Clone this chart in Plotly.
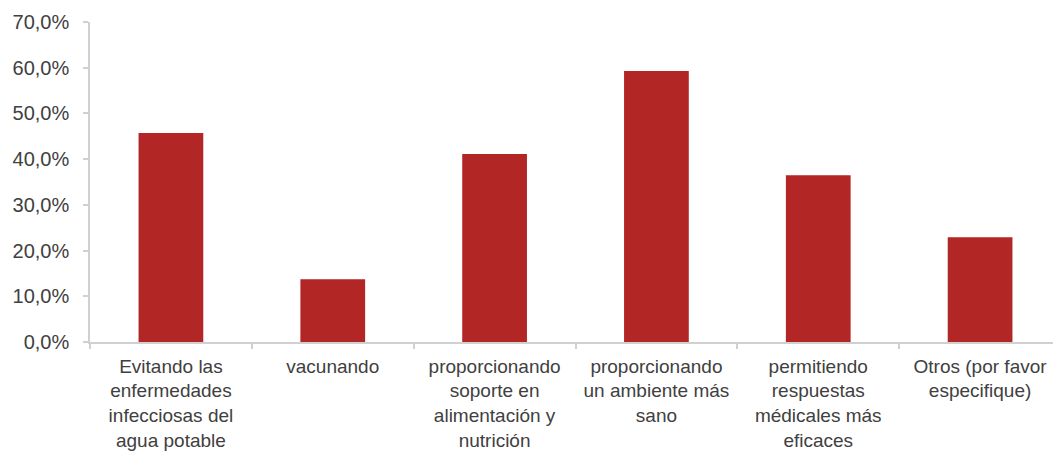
import plotly.graph_objects as go

categories = [
    "Evitando las<br>enfermedades<br>infecciosas del<br>agua potable",
    "vacunando",
    "proporcionando<br>soporte en<br>alimentación y<br>nutrición",
    "proporcionando<br>un ambiente más<br>sano",
    "permitiendo<br>respuestas<br>médicales más<br>eficaces",
    "Otros (por favor<br>especifique)",
]
values = [0.457, 0.137, 0.411, 0.593, 0.365, 0.229]
tick_vals = [0, 0.1, 0.2, 0.3, 0.4, 0.5, 0.6, 0.7]
tick_text = ["0,0%", "10,0%", "20,0%", "30,0%", "40,0%", "50,0%", "60,0%", "70,0%"]

fig = go.Figure(
    go.Bar(x=categories, y=values, marker=dict(color="#B22625", line=dict(width=0)))
)

# page body has an 8px default margin; compensate in the figure size/margins
fig.update_layout(
    width=1053, height=443,
    margin=dict(l=82, r=0, t=14, b=109, autoexpand=False),
    paper_bgcolor="white", plot_bgcolor="white",
    bargap=0.6,
    showlegend=False,
    font=dict(family="Liberation Sans, Arial, sans-serif", size=20, color="#404040"),
)
fig.update_yaxes(
    range=[0, 0.7], tickvals=tick_vals, ticktext=tick_text,
    showgrid=False, zeroline=False, automargin=False,
    showline=True, linecolor="#D0D0D0", linewidth=1.5,
    ticks="outside", ticklen=5, tickcolor="#D0D0D0", tickwidth=1.5,
    ticklabelstandoff=10,
    tickfont=dict(size=20, color="#404040"),
)
fig.update_xaxes(
    showgrid=False, zeroline=False, automargin=False,
    showline=True, linecolor="#D0D0D0", linewidth=1.5,
    ticks="outside", ticklen=5, tickcolor="#D0D0D0", tickwidth=1.5,
    tickson="boundaries", tickangle=0,
    ticklabelstandoff=6,
    tickfont=dict(size=19, color="#404040"),
)

fig.write_html("out.html")
